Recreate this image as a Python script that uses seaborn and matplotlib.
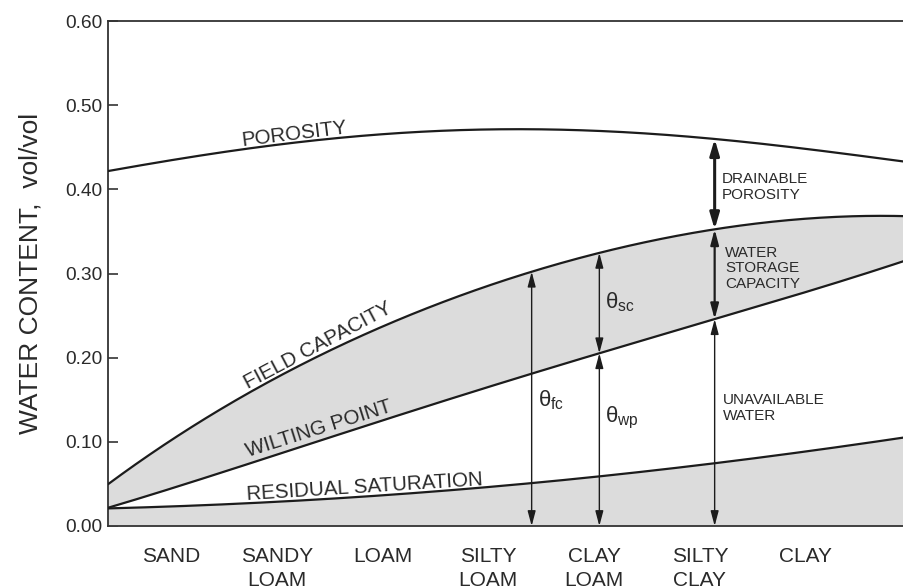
import numpy as np
import seaborn as sns
import matplotlib.pyplot as plt

# ---------- data ----------
soils = ["SAND", "SANDY\nLOAM", "LOAM", "SILTY\nLOAM", "CLAY\nLOAM", "SILTY\nCLAY", "CLAY"]
yticks = [0.0, 0.1, 0.2, 0.3, 0.4, 0.5, 0.6]

# readings at left axis edge, the seven soils, right edge
x_pts = [-0.595, 0, 1, 2, 3, 4, 5, 6, 6.93]
porosity = [0.422, 0.434, 0.453, 0.466, 0.471, 0.469, 0.462, 0.448, 0.433]
field_capacity = [0.051, 0.099, 0.177, 0.240, 0.283, 0.322, 0.351, 0.365, 0.368]
wilting_point = [0.023, 0.042, 0.085, 0.127, 0.166, 0.201, 0.240, 0.280, 0.314]
residual_sat = [0.021, 0.023, 0.029, 0.036, 0.047, 0.058, 0.072, 0.089, 0.105]

# where the arrows stand (soil index units)
x_fc = 3.41
x_wp = 4.05
x_right = 5.14

sns.set_theme(style="white")
plt.rcParams["font.family"] = ["Liberation Sans", "DejaVu Sans"]

fig = plt.figure(figsize=(9.04, 5.88), dpi=100)
ax = fig.add_axes([108 / 904, 1 - 526 / 588, 1 - 108 / 904, (526 - 21) / 588])

xs = np.linspace(x_pts[0], x_pts[-1], 400)


def smooth(vals):
    return np.polyval(np.polyfit(x_pts, vals, 4), xs)


por_s = smooth(porosity)
fc_s = smooth(field_capacity)
wp_s = smooth(wilting_point)
rs_s = smooth(residual_sat)

fill = "#dcdcdc"
ink = "#1c1c1c"
ax.fill_between(xs, wp_s, fc_s, color=fill, lw=0, zorder=1)
ax.fill_between(xs, 0, rs_s, color=fill, lw=0, zorder=1)

for ys in [por_s, fc_s, wp_s, rs_s]:
    sns.lineplot(x=xs, y=ys, ax=ax, color=ink, lw=1.6, estimator=None, sort=False, zorder=3)

# ---------- curve labels ----------
lab = dict(ha="left", va="baseline", rotation_mode="anchor", fontsize=14.8, color="#2a2a2a")
ax.text(0.68, 0.452, "POROSITY", rotation=7, **lab)
ax.text(0.73, 0.163, "FIELD CAPACITY", rotation=28, **lab)
ax.text(0.73, 0.082, "WILTING POINT", rotation=17.5, **lab)
ax.text(0.72, 0.031, "RESIDUAL SATURATION", rotation=3.6, **lab)


# ---------- arrows ----------
def at(curve, x):
    return float(np.interp(x, xs, curve))


def arrow(x, y0, y1, lw=1.0, hl=0.9, hw=0.24):
    ax.annotate("", xy=(x, y1), xytext=(x, y0),
                arrowprops=dict(arrowstyle=f"<|-|>,head_length={hl},head_width={hw}",
                                color=ink, lw=lw, shrinkA=0, shrinkB=0,
                                mutation_scale=10),
                zorder=4)


arrow(x_fc, 0, at(fc_s, x_fc))
arrow(x_wp, 0, at(wp_s, x_wp))
arrow(x_wp, at(wp_s, x_wp), at(fc_s, x_wp))
arrow(x_right, 0, at(wp_s, x_right))
arrow(x_right, at(wp_s, x_right), at(fc_s, x_right), lw=1.6)
arrow(x_right, at(fc_s, x_right), at(por_s, x_right), lw=2.2, hl=0.95, hw=0.28)

th = dict(ha="left", va="center", fontsize=16, color="#2a2a2a")
ax.text(3.47, 0.150, r"$\mathregular{θ_{fc}}$", **th)
ax.text(4.10, 0.266, r"$\mathregular{θ_{sc}}$", **th)
ax.text(4.10, 0.128, r"$\mathregular{θ_{wp}}$", **th)

note = dict(ha="left", va="center", fontsize=11, color="#2a2a2a", linespacing=1.15)
ax.text(5.21, 0.403, "DRAINABLE\nPOROSITY", **note)
ax.text(5.24, 0.306, "WATER\nSTORAGE\nCAPACITY", **note)
ax.text(5.22, 0.140, "UNAVAILABLE\nWATER", **note)

# ---------- axes ----------
ax.set_xlim(x_pts[0], x_pts[-1])
ax.set_ylim(0, 0.6)
ax.set_xticks(range(len(soils)))
ax.set_xticklabels(soils, fontsize=15, color="#2a2a2a", linespacing=1.35)
ax.set_yticks(yticks)
ax.set_yticklabels([f"{v:.2f}" for v in yticks], fontsize=13.8, color="#2a2a2a")
ax.tick_params(axis="x", length=0, pad=15)
ax.tick_params(axis="y", direction="in", length=7, width=1.2, color="#333333", pad=4, left=True)
ax.set_xlabel("")
ax.set_ylabel("WATER CONTENT,  vol/vol", fontsize=19, color="#2a2a2a")
ax.yaxis.set_label_coords(-65 / 796, 0.5)

ax.spines["right"].set_visible(False)
for s in ["left", "bottom", "top"]:
    ax.spines[s].set_color("#333333")
    ax.spines[s].set_linewidth(1.3)

fig.savefig("out.png", dpi=100)
plt.close()
